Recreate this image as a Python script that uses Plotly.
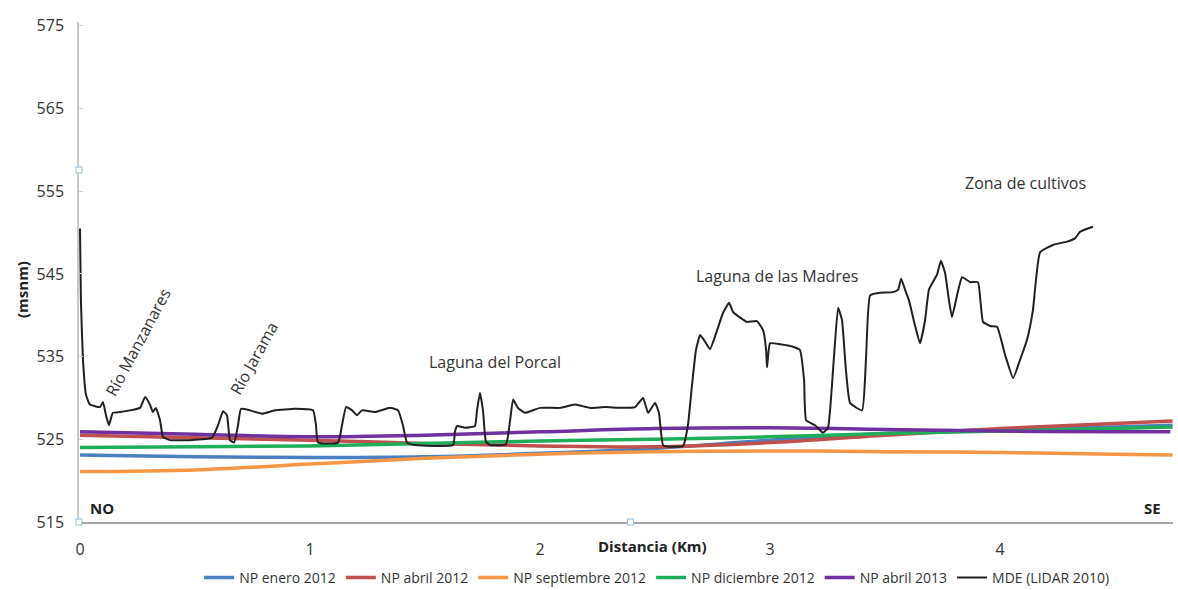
import plotly.graph_objects as go

# Perfil topográfico (MDE LIDAR 2010): distancia (km) y cota (msnm)
mde_km = [0.000, 0.004, 0.013, 0.026, 0.043, 0.087, 0.100, 0.113, 0.126, 0.143,
          0.174, 0.217, 0.261, 0.283, 0.304, 0.317, 0.330, 0.348, 0.361, 0.391,
          0.478, 0.574, 0.600, 0.622, 0.639, 0.652, 0.670, 0.687, 0.700, 0.739,
          0.791, 0.848, 0.935, 1.013, 1.026, 1.035, 1.122, 1.139, 1.157, 1.183,
          1.204, 1.226, 1.283, 1.348, 1.383, 1.404, 1.422, 1.457, 1.622, 1.630,
          1.639, 1.674, 1.717, 1.726, 1.739, 1.752, 1.765, 1.783, 1.852, 1.870,
          1.883, 1.904, 1.935, 2.000, 2.087, 2.152, 2.217, 2.283, 2.348, 2.413,
          2.448, 2.470, 2.500, 2.517, 2.535, 2.565, 2.622, 2.643, 2.661, 2.678,
          2.696, 2.713, 2.739, 2.770, 2.796, 2.822, 2.839, 2.861, 2.900, 2.943,
          2.970, 2.983, 2.987, 3.000, 3.043, 3.100, 3.130, 3.148, 3.157, 3.196,
          3.230, 3.252, 3.274, 3.296, 3.313, 3.330, 3.348, 3.400, 3.417, 3.435,
          3.470, 3.535, 3.557, 3.570, 3.587, 3.604, 3.630, 3.652, 3.674, 3.691,
          3.726, 3.743, 3.761, 3.778, 3.791, 3.813, 3.835, 3.870, 3.904, 3.926,
          3.957, 3.987, 4.022, 4.057, 4.087, 4.117, 4.143, 4.174, 4.230, 4.291,
          4.326, 4.348, 4.404]
mde_cota = [550.5, 541.8, 534.6, 530.4, 529.2, 528.9, 529.5, 527.9, 526.7, 528.2,
            528.3, 528.5, 528.8, 530.1, 529.2, 528.3, 528.8, 527.3, 525.3, 524.9,
            524.9, 525.2, 526.7, 528.4, 527.9, 524.9, 524.6, 526.7, 528.7, 528.5,
            528.1, 528.5, 528.7, 528.5, 526.7, 524.6, 524.6, 526.7, 528.9, 528.5,
            527.9, 528.5, 528.3, 528.8, 528.5, 526.7, 524.6, 524.3, 524.3, 525.9,
            526.6, 526.4, 526.6, 528.5, 530.6, 528.5, 524.7, 524.3, 524.4, 527.3,
            529.8, 528.8, 528.2, 528.8, 528.8, 529.2, 528.8, 528.9, 528.8, 528.9,
            530.0, 528.2, 529.4, 528.2, 524.3, 524.1, 524.2, 526.7, 531.6, 535.8,
            537.6, 537.0, 535.9, 538.2, 540.3, 541.5, 540.4, 539.9, 539.2, 539.3,
            538.2, 535.8, 533.7, 536.6, 536.5, 536.2, 535.8, 532.2, 527.3, 526.7,
            525.8, 526.4, 533.4, 540.9, 539.4, 533.4, 529.4, 528.5, 534.6, 542.4,
            542.7, 542.8, 543.1, 544.4, 543.1, 541.8, 538.8, 536.6, 539.4, 543.1,
            544.9, 546.6, 545.1, 541.8, 539.8, 542.4, 544.6, 544.0, 544.0, 539.2,
            538.7, 538.6, 535.2, 532.4, 534.6, 537.0, 540.6, 547.6, 548.5, 548.9,
            549.3, 550.1, 550.7]

# Niveles piezométricos (NP) a lo largo del perfil
np_km = [0.0, 0.5, 1.0, 1.5, 2.0, 2.5, 3.0, 3.5, 4.0, 4.5, 4.75]
np_enero_2012 = [523.1, 522.9, 522.8, 522.9, 523.3, 523.9, 524.9, 525.7, 526.2, 526.5, 526.7]
np_abril_2012 = [525.5, 525.2, 524.9, 524.5, 524.2, 524.1, 524.6, 525.5, 526.3, 526.9, 527.2]
np_septiembre_2012 = [521.1, 521.3, 522.0, 522.7, 523.2, 523.5, 523.6, 523.5, 523.4, 523.2, 523.1]
np_diciembre_2012 = [524.0, 524.1, 524.2, 524.5, 524.8, 525.0, 525.3, 525.7, 526.0, 526.3, 526.5]
np_abril_2013_km = [0.0, 0.5, 1.0, 1.5, 2.0, 2.5, 3.0, 3.5, 4.0, 4.5, 4.74]
np_abril_2013 = [525.9, 525.6, 525.3, 525.5, 525.9, 526.3, 526.4, 526.2, 526.0, 525.9, 525.9]

x_ticks = [0, 1, 2, 3, 4]
y_ticks = [515, 525, 535, 545, 555, 565, 575]

FONT = "Open Sans"
TXT = "#333333"

fig = go.Figure()

series = [
    ("NP enero 2012", np_km, np_enero_2012, "#4a7fc1"),
    ("NP abril 2012", np_km, np_abril_2012, "#c0504d"),
    ("NP septiembre 2012", np_km, np_septiembre_2012, "#f79646"),
    ("NP diciembre 2012", np_km, np_diciembre_2012, "#1fad5a"),
    ("NP abril 2013", np_abril_2013_km, np_abril_2013, "#7030a0"),
]
for name, xs, ys, col in series:
    fig.add_trace(go.Scatter(
        x=xs, y=ys, name=name, mode="lines",
        line=dict(color=col, width=3.5, shape="spline", smoothing=1.0),
    ))

fig.add_trace(go.Scatter(
    x=mde_km, y=mde_cota, name="MDE (LIDAR 2010)", mode="lines",
    line=dict(color="#231f20", width=2, shape="spline", smoothing=0.4),
))

labels = [
    ("Río Manzanares", 0.252, 536.8, -62),
    ("Río Jarama", 0.757, 534.8, -61),
    ("Laguna del Porcal", 1.804, 534.3, 0),
    ("Laguna de las Madres", 3.03, 544.7, 0),
    ("Zona de cultivos", 4.109, 556.0, 0),
]
for text, x, y, ang in labels:
    fig.add_annotation(x=x, y=y, text=text, showarrow=False, textangle=ang,
                       font=dict(family=FONT, size=16, color=TXT),
                       xanchor="center", yanchor="middle")

for text, x in [("NO", 0.096), ("SE", 4.665)]:
    fig.add_annotation(x=x, y=516.7, text=f"<b>{text}</b>", showarrow=False,
                       font=dict(family=FONT, size=15, color="#222222"),
                       xanchor="center", yanchor="middle")

# axis titles
fig.add_annotation(x=2.49, y=0, xref="x", yref="paper", yshift=-24,
                   text="<b>Distancia (Km)</b>", showarrow=False,
                   font=dict(family=FONT, size=15, color="#222222"),
                   xanchor="center", yanchor="middle")
fig.add_annotation(x=0, y=0.464, xref="paper", yref="paper", xshift=-57,
                   text="<b>(msnm)</b>", showarrow=False, textangle=-90,
                   font=dict(family=FONT, size=15, color="#222222"),
                   xanchor="center", yanchor="middle")

# small chart-frame handles
for hx, hy in [(0, 0.704), (0, 0), (0.504, 0)]:
    fig.add_shape(type="rect", xref="paper", yref="paper",
                  xsizemode="pixel", ysizemode="pixel",
                  xanchor=hx, yanchor=hy, x0=-3, x1=3, y0=-3, y1=3,
                  line=dict(color="#8fbde0", width=1), fillcolor="white")

fig.update_layout(
    width=1178, height=590,
    margin=dict(l=79, r=5, t=22, b=68, autoexpand=False),
    paper_bgcolor="white", plot_bgcolor="white",
    font=dict(family=FONT, color=TXT),
    showlegend=True,
    legend=dict(orientation="h", x=0.528, y=-0.112, xanchor="center", yanchor="middle",
                font=dict(family=FONT, size=14, color=TXT),
                itemwidth=30, tracegroupgap=0),
    xaxis=dict(range=[-0.0043, 4.752], tickvals=x_ticks, ticktext=[str(v) for v in x_ticks],
               showgrid=False, zeroline=False, showline=True, linecolor="#a6a6a6",
               linewidth=2, ticks="", ticklabelstandoff=12,
               tickfont=dict(family=FONT, size=16, color=TXT)),
    yaxis=dict(range=[515, 575.46], tickvals=y_ticks, ticktext=[str(v) for v in y_ticks],
               showgrid=False, zeroline=False, showline=True, linecolor="#c8c8c8",
               linewidth=1.5, ticks="inside", ticklen=4, tickcolor="#d0d0d0",
               ticklabelstandoff=10,
               tickfont=dict(family=FONT, size=16, color=TXT)),
)

fig.write_html("out.html")
